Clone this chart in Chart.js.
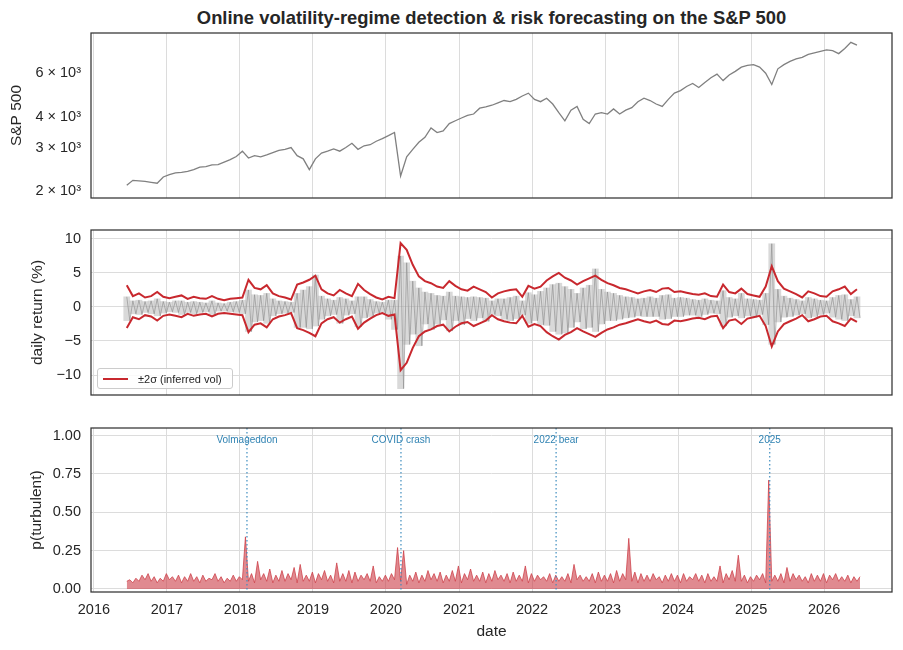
<!DOCTYPE html>
<html lang="en">
<head>
  <meta charset="UTF-8" />
  <title>Online volatility-regime detection</title>
  <script src="https://cdn.jsdelivr.net/npm/chart.js@4.4.0/dist/chart.umd.min.js"></script>
  <style>
    * { margin: 0; padding: 0; box-sizing: border-box; }
    body {
      background: #ffffff;
      font-family: 'Liberation Sans', Arial, sans-serif;
      color: #262626;
    }
    #fig { position: relative; width: 903px; height: 650px; }
    #fig canvas { position: absolute; left: 0; }
    .title {
      position: absolute; top: 7px; left: 91px; width: 801px;
      text-align: center; font-weight: bold; font-size: 18.4px; line-height: 22px;
    }
    /* legend sits inside the middle panel, bottom-left */
    .legend {
      position: absolute; left: 97px; top: 368px; width: 136px; height: 21px;
      display: flex; align-items: center; padding-left: 5px;
      font-size: 11px; color: #262626;
      background: rgba(255,255,255,0.85);
      border: 1px solid #cccccc; border-radius: 3px;
      z-index: 2;
    }
    .legend .swatch {
      display: inline-block; width: 25px; height: 2px;
      background: #c8282e; margin-right: 10px;
    }
  </style>
</head>
<body>
  <div id="fig">
    <div class="title">Online volatility-regime detection &amp; risk forecasting on the S&amp;P 500</div>
    <canvas id="priceChart" width="903" height="180" style="top:25px"></canvas>
    <canvas id="retChart" width="903" height="180" style="top:222px"></canvas>
    <canvas id="probChart" width="903" height="230" style="top:420px"></canvas>
    <div class="legend"><span class="swatch"></span><span>±2σ (inferred vol)</span></div>
  </div>

  <script>
    // ---- data (one value per month) ----
    const startYear = 2016.45;   // first observation, mid-June 2016
    const yearTicks = [2016, 2017, 2018, 2019, 2020, 2021, 2022, 2023, 2024, 2025, 2026];

    const price = [
      2110, 2210, 2200, 2190, 2170, 2150, 2280, 2330, 2370, 2380,
      2400, 2440, 2500, 2510, 2550, 2560, 2620, 2680, 2760, 2900,
      2720, 2780, 2750, 2800, 2860, 2920, 2950, 3000, 2780, 2700,
      2440, 2700, 2850, 2900, 2960, 2900, 3000, 3120, 2950, 3050,
      3080, 3180, 3260, 3350, 3450, 2300, 2750, 2950, 3150, 3300,
      3600, 3450, 3500, 3750, 3850, 3950, 4050, 4100, 4330, 4380,
      4450, 4550, 4650, 4600, 4700, 4850, 4980, 4700, 4600, 4750,
      4500, 4150, 3850, 4250, 4400, 3900, 3750, 4100, 4150, 4100,
      4300, 4100, 4250, 4350, 4600, 4750, 4650, 4500, 4400, 4700,
      4980, 5100, 5300, 5450, 5250, 5500, 5750, 5950, 5600, 5900,
      6100, 6350, 6450, 6500, 6350, 6000, 5400, 6250, 6500, 6700,
      6850, 6950, 7150, 7250, 7350, 7450, 7400, 7200, 7550, 8000,
      7800
    ];

    // daily-return spread within each month (highest / lowest, %)
    const retHi = [
      1.5, 0.9, 1.0, 0.8, 0.9, 1.2, 0.8, 0.7, 0.9, 0.9,
      0.7, 0.8, 0.7, 0.6, 0.9, 0.6, 0.5, 0.7, 0.8, 1.0,
      2.5, 1.8, 1.7, 2.0, 1.2, 0.9, 0.8, 0.7, 2.0, 2.5,
      3.0, 4.7, 1.6, 1.2, 1.0, 1.4, 1.2, 0.9, 1.5, 1.5,
      1.1, 0.8, 0.7, 1.0, 1.0, 7.5, 6.5, 3.8, 2.8, 2.2,
      2.0, 1.7, 1.6, 2.2, 1.6, 1.5, 1.4, 1.5, 1.4, 1.3,
      0.9, 1.2, 1.2, 1.4, 1.6, 0.9, 2.1, 1.8, 2.3, 2.8,
      3.3, 3.5, 3.0, 2.6, 2.0, 2.8, 3.2, 5.6, 2.6, 2.2,
      2.0, 1.7, 1.5, 1.4, 1.2, 1.3, 1.5, 1.3, 1.7, 1.8,
      1.3, 1.4, 1.3, 1.1, 1.0, 1.2, 1.0, 0.9, 2.4, 1.4,
      1.2, 2.0, 1.2, 1.1, 1.0, 2.0, 9.3, 2.6, 1.6, 1.3,
      1.1, 0.9, 1.4, 1.2, 1.0, 0.9, 1.4, 1.7, 1.8, 1.1,
      1.5
    ];
    const retLo = [
      -2.0, -1.0, -1.1, -0.8, -1.0, -1.3, -0.9, -0.7, -0.8, -1.1,
      -0.8, -1.0, -0.8, -0.7, -1.1, -0.6, -0.6, -0.7, -0.8, -1.0,
      -3.6, -2.2, -2.0, -2.4, -1.3, -1.0, -0.9, -0.8, -3.0, -3.0,
      -3.2, -2.8, -1.8, -1.3, -1.1, -2.4, -1.2, -1.0, -2.9, -1.6,
      -1.4, -0.9, -0.9, -1.8, -3.3, -12.0, -5.5, -4.0, -5.7, -2.5,
      -3.3, -2.5, -1.9, -3.5, -2.0, -2.6, -1.7, -2.0, -1.6, -2.1,
      -1.1, -1.3, -1.8, -2.0, -1.7, -1.2, -2.4, -2.0, -2.6, -2.7,
      -3.6, -4.0, -3.8, -3.0, -2.2, -3.2, -3.0, -3.6, -2.5, -2.0,
      -2.0, -1.8, -1.6, -1.5, -1.3, -1.4, -1.4, -1.4, -1.8, -1.7,
      -1.4, -1.4, -1.2, -1.2, -1.4, -1.1, -0.9, -1.0, -2.8, -1.5,
      -1.3, -1.6, -1.3, -1.5, -1.1, -2.6, -5.5, -2.2, -1.5, -1.4,
      -1.2, -1.0, -1.6, -1.4, -1.1, -0.9, -1.5, -1.8, -2.0, -1.3,
      -1.6
    ];

    // +/- 2 sigma band of the inferred volatility (%)
    const bandUp = [
      3.2, 1.6, 2.0, 1.4, 1.6, 2.2, 1.5, 1.3, 1.5, 1.7,
      1.2, 1.5, 1.3, 1.2, 1.6, 1.2, 1.0, 1.2, 1.3, 1.4,
      4.0, 2.8, 2.6, 3.2, 2.0, 1.6, 1.4, 1.1, 3.3, 3.6,
      4.0, 4.6, 2.6, 2.0, 1.7, 2.5, 2.0, 1.6, 3.4, 2.5,
      1.9, 1.4, 1.1, 1.5, 1.3, 9.4, 8.4, 6.2, 4.5, 3.8,
      3.5, 3.0, 2.8, 3.8, 3.1, 2.6, 2.4, 3.0, 2.6, 2.2,
      1.4, 2.0, 2.3, 2.5, 2.6, 1.5, 3.1, 2.7, 3.0, 3.9,
      4.5, 5.0, 4.3, 3.9, 3.3, 3.8, 4.2, 4.6, 4.0, 3.5,
      3.2, 2.8, 2.6, 2.3, 2.0, 2.3, 2.5, 2.2, 2.7, 2.8,
      2.2, 2.3, 2.1, 1.9, 1.8, 2.0, 1.6, 1.5, 3.3, 2.2,
      2.0, 2.7, 1.9, 1.7, 1.5, 3.0, 6.0, 3.8, 2.7, 2.3,
      1.9, 1.4, 2.3, 2.0, 1.6, 1.5, 2.3, 2.6, 3.0, 1.9,
      2.6
    ];
    const bandLo = [
      -3.1, -1.5, -1.8, -1.2, -1.4, -2.0, -1.3, -1.1, -1.3, -1.5,
      -1.0, -1.3, -1.1, -1.0, -1.4, -1.0, -0.9, -1.0, -1.1, -1.2,
      -3.7, -2.6, -2.4, -3.0, -1.8, -1.4, -1.2, -0.9, -3.1, -3.4,
      -3.8, -4.3, -2.4, -1.8, -1.5, -2.3, -1.8, -1.4, -3.2, -2.3,
      -1.7, -1.2, -0.9, -1.3, -1.1, -9.3, -8.2, -6.0, -4.3, -3.6,
      -3.3, -2.8, -2.6, -3.6, -2.9, -2.4, -2.2, -2.8, -2.4, -2.0,
      -1.2, -1.8, -2.1, -2.3, -2.4, -1.3, -2.9, -2.5, -2.8, -3.7,
      -4.3, -4.8, -4.1, -3.7, -3.1, -3.6, -4.0, -4.4, -3.8, -3.3,
      -3.0, -2.6, -2.4, -2.1, -1.8, -2.1, -2.3, -2.0, -2.5, -2.6,
      -2.0, -2.1, -1.9, -1.7, -1.6, -1.8, -1.4, -1.3, -3.1, -2.0,
      -1.8, -2.5, -1.7, -1.5, -1.3, -2.8, -5.8, -3.6, -2.5, -2.1,
      -1.7, -1.2, -2.1, -1.8, -1.4, -1.3, -2.1, -2.4, -2.8, -1.7,
      -2.2
    ];

    // filtered probability of the turbulent regime: typical level and peak per month
    const pBase = [
      0.05, 0.04, 0.05, 0.06, 0.05, 0.04, 0.05, 0.06, 0.05, 0.04, 0.05, 0.05, 0.04, 0.05, 0.06, 0.05, 0.04, 0.05, 0.05, 0.06,
      0.05, 0.04, 0.06, 0.05, 0.04, 0.05, 0.05, 0.06, 0.04, 0.05, 0.05, 0.04, 0.06, 0.05, 0.04, 0.05, 0.05, 0.04, 0.05, 0.06,
      0.05, 0.04, 0.05, 0.05, 0.06, 0.05, 0.03, 0.05, 0.04, 0.05, 0.06, 0.05, 0.04, 0.05, 0.05, 0.04, 0.06, 0.05, 0.05, 0.04,
      0.05, 0.06, 0.05, 0.04, 0.05, 0.05, 0.04, 0.05, 0.06, 0.05, 0.04, 0.05, 0.05, 0.04, 0.06, 0.05, 0.05, 0.04, 0.05, 0.05,
      0.04, 0.05, 0.06, 0.05, 0.04, 0.05, 0.05, 0.06, 0.04, 0.05, 0.05, 0.04, 0.05, 0.06, 0.05, 0.04, 0.05, 0.05, 0.04, 0.06,
      0.05, 0.05, 0.04, 0.05, 0.06, 0.04, 0.05, 0.05, 0.04, 0.05, 0.06, 0.05, 0.04, 0.05, 0.05, 0.04, 0.06, 0.05, 0.05, 0.04,
      0.05
    ];
    const pPeak = [
      0.06, 0.07, 0.09, 0.10, 0.08, 0.07, 0.10, 0.08, 0.09, 0.08,
      0.10, 0.08, 0.09, 0.07, 0.10, 0.08, 0.07, 0.09, 0.08, 0.34,
      0.10, 0.18, 0.10, 0.13, 0.09, 0.12, 0.10, 0.14, 0.16, 0.09,
      0.11, 0.10, 0.12, 0.09, 0.17, 0.10, 0.12, 0.11, 0.09, 0.10,
      0.15, 0.08, 0.09, 0.10, 0.27, 0.25, 0.09, 0.11, 0.09, 0.12,
      0.10, 0.11, 0.09, 0.12, 0.15, 0.10, 0.13, 0.09, 0.11, 0.10,
      0.12, 0.09, 0.10, 0.11, 0.09, 0.15, 0.10, 0.09, 0.08, 0.10,
      0.09, 0.08, 0.10, 0.16, 0.09, 0.08, 0.10, 0.11, 0.09, 0.10,
      0.12, 0.10, 0.33, 0.11, 0.10, 0.09, 0.10, 0.08, 0.09, 0.10,
      0.09, 0.10, 0.08, 0.10, 0.09, 0.10, 0.08, 0.15, 0.10, 0.12,
      0.22, 0.09, 0.08, 0.09, 0.10, 0.71, 0.09, 0.10, 0.14, 0.10,
      0.09, 0.08, 0.10, 0.09, 0.10, 0.09, 0.10, 0.08, 0.09, 0.08,
      0.08
    ];

    // annotated stress episodes
    const eventNames = ['Volmageddon', 'COVID crash', '2022 bear', '2025'];
    const eventYears = [2018.096, 2020.205, 2022.33, 2025.255];

    // ---- helpers ----
    const FONT = "'Liberation Sans', Arial, sans-serif";
    const GRID = '#dcdcdc';
    const X_MIN = 2015.96, X_MAX = 2026.93;
    const monthX = i => startYear + i / 12;
    const halfMonth = 1 / 24;

    Chart.defaults.font.family = FONT;
    Chart.defaults.color = '#262626';

    const priceData = price.map((v, i) => ({ x: monthX(i), y: v }));
    // gray returns: a light floating bar over each month's range plus a zigzag trace through it
    const retRange = retHi.map((v, i) => ({ x: monthX(i), y: [retLo[i], v] }));
    const retTrace = [];
    retHi.forEach((v, i) => {
      retTrace.push({ x: monthX(i), y: v });
      retTrace.push({ x: monthX(i) + halfMonth, y: retLo[i] });
    });
    const upData = bandUp.map((v, i) => ({ x: monthX(i), y: v }));
    const loData = bandLo.map((v, i) => ({ x: monthX(i), y: v }));
    const probData = [];
    pBase.forEach((v, i) => {
      probData.push({ x: monthX(i), y: v });
      probData.push({ x: monthX(i) + halfMonth, y: pPeak[i] });
    });

    // dark frame around each panel
    const framePlugin = {
      id: 'frame',
      afterDraw(chart) {
        const { ctx, chartArea: a } = chart;
        ctx.save();
        ctx.strokeStyle = '#333333';
        ctx.lineWidth = 1.25;
        ctx.strokeRect(a.left, a.top, a.right - a.left, a.bottom - a.top);
        ctx.restore();
      }
    };

    // dotted event markers with labels (bottom panel)
    const eventPlugin = {
      id: 'events',
      afterDatasetsDraw(chart) {
        const { ctx, chartArea: a, scales } = chart;
        ctx.save();
        eventYears.forEach((yr, i) => {
          const px = scales.x.getPixelForValue(yr);
          ctx.strokeStyle = 'rgba(60,140,190,0.85)';
          ctx.lineWidth = 1.4;
          ctx.setLineDash([1.5, 2.5]);
          ctx.beginPath();
          ctx.moveTo(px, a.top);
          ctx.lineTo(px, a.bottom);
          ctx.stroke();
          ctx.setLineDash([]);
          ctx.fillStyle = '#2f82b2';
          ctx.font = '10px ' + FONT;
          ctx.textAlign = 'center';
          ctx.textBaseline = 'middle';
          ctx.fillText(eventNames[i], px, scales.y.getPixelForValue(0.97));
        });
        ctx.restore();
      }
    };

    function xAxis(showLabels, axisHeight) {
      return {
        type: 'linear',
        min: X_MIN,
        max: X_MAX,
        offset: false,
        afterBuildTicks: ax => { ax.ticks = yearTicks.map(v => ({ value: v })); },
        afterFit: ax => { ax.height = axisHeight; ax.paddingLeft = 0; ax.paddingRight = 0; },
        grid: { color: GRID, lineWidth: 1, drawTicks: false, offset: false },
        border: { display: false },
        ticks: { display: showLabels, padding: 9, font: { size: 14.5 }, callback: v => String(v) },
        title: {
          display: showLabels, text: 'date',
          font: { size: 15.5 }, padding: { top: 0, bottom: 9 }
        }
      };
    }

    function yAxis(extra) {
      return Object.assign({
        afterFit: ax => { ax.width = 91; ax.paddingTop = 0; ax.paddingBottom = 0; },
        grid: { color: GRID, lineWidth: 1, drawTicks: false },
        border: { display: false }
      }, extra);
    }

    function yTitle(text, pad) {
      return { display: true, text: text, font: { size: 15.5 }, padding: { top: pad, bottom: 0 } };
    }

    const common = {
      responsive: false,
      animation: false,
      events: [],
      layout: { padding: { top: 8, right: 11, left: 0, bottom: 0 } },
      elements: { point: { radius: 0 } },
      plugins: { legend: { display: false }, tooltip: { enabled: false } }
    };

    // ---- panel 1: index level (log scale) ----
    new Chart(document.getElementById('priceChart'), {
      type: 'line',
      data: {
        datasets: [{
          data: priceData, borderColor: '#808080', borderWidth: 1.3, tension: 0
        }]
      },
      options: {
        ...common,
        scales: {
          x: xAxis(false, 7),
          y: yAxis({
            type: 'logarithmic',
            min: 1874, max: 8726,
            afterBuildTicks: ax => { ax.ticks = [2000, 3000, 4000, 6000].map(v => ({ value: v })); },
            grid: { display: false, drawTicks: false },
            ticks: { padding: 10, font: { size: 14.5 }, callback: v => (v / 1000) + ' × 10³' },
            title: yTitle('S&P 500', 7.7)
          })
        }
      },
      plugins: [framePlugin]
    });

    // ---- panel 2: daily returns with the +/-2 sigma band ----
    new Chart(document.getElementById('retChart'), {
      type: 'line',
      data: {
        datasets: [
          {
            type: 'bar', data: retRange, order: 3,
            backgroundColor: 'rgba(170,170,170,0.45)',
            barPercentage: 1, categoryPercentage: 1, grouped: false
          },
          { data: retTrace, borderColor: 'rgba(145,145,145,0.85)', borderWidth: 0.8, tension: 0, order: 2 },
          { data: upData, borderColor: '#c8282e', borderWidth: 2, tension: 0, order: 1 },
          { data: loData, borderColor: '#c8282e', borderWidth: 2, tension: 0, order: 1 }
        ]
      },
      options: {
        ...common,
        scales: {
          x: xAxis(false, 7),
          y: yAxis({
            min: -12.94, max: 11.32,
            afterBuildTicks: ax => { ax.ticks = [-10, -5, 0, 5, 10].map(v => ({ value: v })); },
            ticks: { padding: 10, font: { size: 14.5 }, callback: v => (v < 0 ? '\u2212' + Math.abs(v) : String(v)) },
            title: yTitle('daily return (%)', 28.7)
          })
        }
      },
      plugins: [framePlugin]
    });

    // ---- panel 3: probability of the turbulent regime ----
    new Chart(document.getElementById('probChart'), {
      type: 'line',
      data: {
        datasets: [{
          data: probData,
          borderColor: 'rgba(204,60,70,0.75)',
          backgroundColor: 'rgba(204,60,70,0.6)',
          borderWidth: 1,
          fill: 'origin',
          tension: 0
        }]
      },
      options: {
        ...common,
        scales: {
          x: xAxis(true, 58),
          y: yAxis({
            min: -0.02, max: 1.05,
            afterBuildTicks: ax => { ax.ticks = [0, 0.25, 0.5, 0.75, 1].map(v => ({ value: v })); },
            ticks: { padding: 10, font: { size: 14.5 }, callback: v => v.toFixed(2) },
            title: yTitle('p(turbulent)', 27.7)
          })
        }
      },
      plugins: [eventPlugin, framePlugin]
    });
  </script>
</body>
</html>
